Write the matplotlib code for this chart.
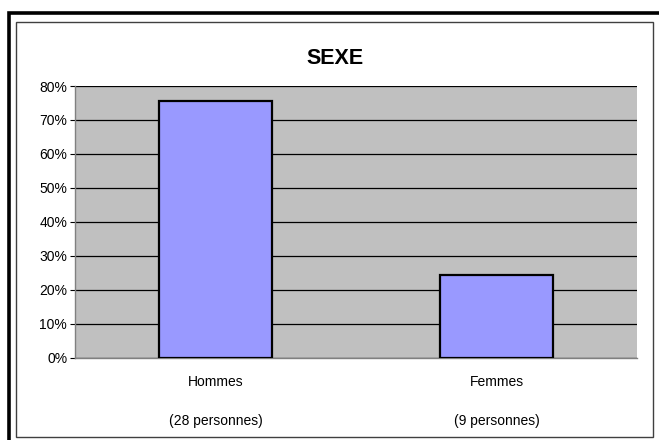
import matplotlib
matplotlib.use("Agg")
import matplotlib.pyplot as plt
from matplotlib.lines import Line2D
from matplotlib.patches import Rectangle
from matplotlib.ticker import MultipleLocator, PercentFormatter
import matplotlib.transforms as mtransforms

plt.rcParams["font.family"] = ["Liberation Sans", "DejaVu Sans"]

# values (share of 37 respondents)
categories = ["Hommes", "Femmes"]
counts = [28, 9]
shares = [0.757, 0.243]
sub_labels = ["(28 personnes)", "(9 personnes)"]
title = "SEXE"

W, H = 659, 440
fig = plt.figure(figsize=(W / 100, H / 100), dpi=100)
fig.patch.set_facecolor("white")

# chart frame: thick outer border (only left/top inside the image), thin inner border
outer_x, outer_y = 8.5 / W, 1 - 13.5 / H
fig.add_artist(Line2D([outer_x, outer_x, 1.05], [-0.05, outer_y, outer_y],
                      transform=fig.transFigure, color="black",
                      linewidth=2.6, solid_joinstyle="miter"))
fig.add_artist(Rectangle((16 / W, 1 - 437 / H), (653 - 16) / W, (437 - 22) / H,
                         transform=fig.transFigure, fill=False,
                         edgecolor="#404040", linewidth=1.0))

ax = fig.add_axes([75 / W, 1 - 357.5 / H, (637 - 75) / W, (357.5 - 86) / H])
ax.set_facecolor("#C0C0C0")

x = list(range(len(categories)))
ax.bar(x, shares, width=0.4, color="#9999FF", edgecolor="black",
       linewidth=1.6, zorder=3)

ax.set_xlim(-0.5, len(categories) - 0.5)
ax.set_ylim(0, 0.8)
ax.yaxis.set_major_locator(MultipleLocator(0.1))
ax.yaxis.set_major_formatter(PercentFormatter(1.0, decimals=0))
ax.grid(axis="y", color="black", linewidth=0.9, zorder=1)
ax.set_axisbelow(True)
ax.set_xticks([])
ax.tick_params(axis="y", direction="out", length=3.6, width=0.8,
               pad=2, labelsize=10, colors="black")

for side in ("top", "right"):
    ax.spines[side].set_visible(False)
for side in ("left", "bottom"):
    ax.spines[side].set_color("#808080")
    ax.spines[side].set_linewidth(1.0)

trans = mtransforms.blended_transform_factory(ax.transData, fig.transFigure)
for xi, name, sub in zip(x, categories, sub_labels):
    ax.text(xi, 1 - 382 / H, name, transform=trans, ha="center",
            va="center", fontsize=10)
    ax.text(xi, 1 - 421 / H, sub, transform=trans, ha="center",
            va="center", fontsize=10)

fig.text(335 / W, 1 - 59 / H, title, ha="center", va="center",
         fontsize=15.5, fontweight="bold")

fig.savefig("out.png", dpi=100)
